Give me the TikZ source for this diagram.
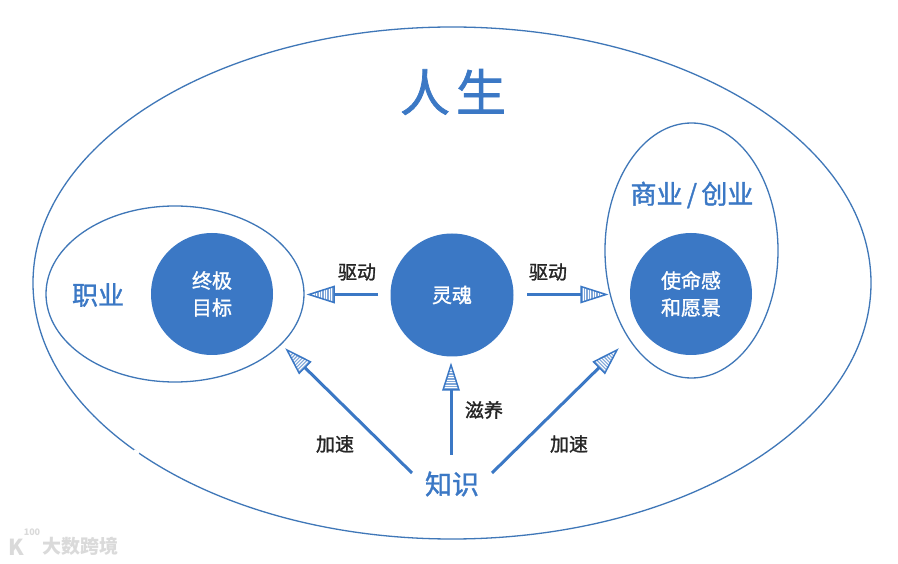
\documentclass[tikz,border=0pt]{standalone}
\usepackage{fontspec}
\setmainfont{Noto Sans CJK SC}
\newfontfamily\semi[FakeBold=1.4]{Noto Sans CJK SC}
\usetikzlibrary{calc}
\definecolor{bl}{HTML}{3B78C5}
\definecolor{ln}{HTML}{3F77B8}
\definecolor{wm}{HTML}{DADADA}
\tikzset{
  x=1pt,y=1pt,
  ring/.style={draw=ln,line width=1.3pt,fill=none},
  disc/.style={circle,fill=bl,draw=none,inner sep=0pt,minimum size=#1,align=center,text=white},
  conn/.style={draw=bl,line width=3pt,shorten >=23pt},
  lbl/.style={inner sep=0pt,text=black!85,font=\fontsize{19}{20}\selectfont\semi},
  blt/.style={inner sep=0pt,text=bl,font=\fontsize{#1}{#1}\selectfont\semi},
  head/.pic={
    \fill[white,shorten >=0pt] (0,0) -- (-25,8) -- (-25,-8) -- cycle;
    \begin{scope}[shorten >=0pt]
      \clip (0,0) -- (-25,8) -- (-25,-8) -- cycle;
      \foreach \d in {-24,-21.5,...,-6}{\draw[bl!65,line width=1.1pt] (\d,-9) -- (\d,9);}
    \end{scope}
    \draw[bl,line width=1.5pt,line join=miter,shorten >=0pt] (0,0) -- (-25,8) -- (-25,-8) -- cycle;
  }
}
\begin{document}
\begin{tikzpicture}
\useasboundingbox (0,0) rectangle (898,563);
\fill[white] (0,0) rectangle (898,563);
% rings
\draw[ring] (452,280) ellipse [x radius=419,y radius=256];
\draw[white,line width=2.5pt] (134,112.5) -- (139,110);
\draw[ring] (175,269) ellipse [x radius=129,y radius=88];
\draw[ring] (691.5,312.5) ellipse [x radius=86.5,y radius=127.5];
% discs
\node[disc=122pt,font=\fontsize{20}{27}\selectfont\semi] (goal) at (212,269) {终极\\目标};
\node[disc=123pt,font=\fontsize{20}{24}\selectfont\semi] (soul) at (452,268) {灵魂};
\node[disc=122pt,font=\fontsize{20}{27}\selectfont\semi] (vision) at (691,269) {使命感\\和愿景};
% blue titles
\node[blt=50] (life) at (453,471) {人\hspace{0.12em}生};
\node[blt=26] (career) at (98,268) {职业};
\node[blt=26] (biz) at (692,368) {商业\,/\,创业};
\node[blt=27] (know) at (452,79) {知识};
% connector ends
\coordinate (ls) at (378,268.5);
\coordinate (lt) at (309,268.5);
\coordinate (rs) at (527,268.5);
\coordinate (rt) at (606,268.5);
\coordinate (us) at (451,108);
\coordinate (ut) at (451,198);
\coordinate (as) at (412,90);
\coordinate (at) at (287,213);
\coordinate (bs) at (492,90);
\coordinate (bt) at (617,213);
\path[conn] (ls) -- (lt) pic[pos=1,sloped,allow upside down]{head};
\path[conn] (rs) -- (rt) pic[pos=1,sloped,allow upside down]{head};
\path[conn] (us) -- (ut) pic[pos=1,sloped,allow upside down]{head};
\path[conn] (as) -- (at) pic[pos=1,sloped,allow upside down]{head};
\path[conn] (bs) -- (bt) pic[pos=1,sloped,allow upside down]{head};
% labels
\node[lbl] (d1) at (357,291) {驱动};
\node[lbl] (d2) at (548,291) {驱动};
\node[lbl] (n1) at (484,153) {滋养};
\node[lbl] (a1) at (335,119) {加速};
\node[lbl] (a2) at (569,119) {加速};
% watermark
\node[inner sep=0pt,text=wm,font=\fontsize{19}{19}\selectfont\bfseries] (wmk) at (80,17) {大数跨境};
\node[inner sep=0pt,text=wm,font=\fontsize{22}{22}\selectfont\bfseries] (wml) at (16,16) {K};
\node[inner sep=0pt,text=wm,font=\fontsize{9}{9}\selectfont\bfseries] (wmn) at (32,31) {100};
\end{tikzpicture}
\end{document}
